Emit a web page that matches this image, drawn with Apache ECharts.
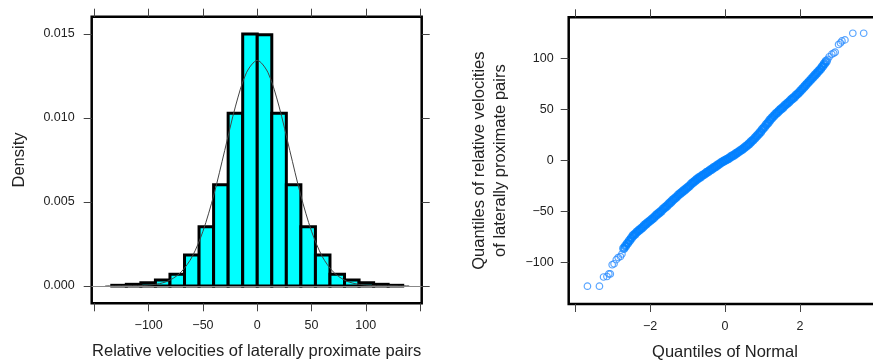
<!DOCTYPE html>
<html>
<head>
<meta charset="utf-8">
<script src="https://cdn.jsdelivr.net/npm/echarts@6/dist/echarts.min.js"></script>
<style>
  html, body { margin: 0; padding: 0; background: #fff; }
  #chart { width: 873px; height: 362px; }
</style>
</head>
<body>
<div id="chart"></div>
<script>
// histogram: bin edges and density per bin
const binEdges = [-134.0, -120.6, -107.2, -93.8, -80.4, -67.0, -53.6, -40.2, -26.8, -13.4, 0,
  13.4, 26.8, 40.2, 53.6, 67.0, 80.4, 93.8, 107.2, 120.6, 134.0]
const binDensity = [0.00004, 0.0001, 0.0002, 0.00036, 0.0007, 0.00185, 0.00353, 0.00603, 0.01029, 0.0150,
  0.01495, 0.01029, 0.00603, 0.00353, 0.00185, 0.0007, 0.00036, 0.0002, 0.0001, 0.00004]

// fitted density curve
const curveX = [-140, -130, -120, -110, -100, -90, -80, -70, -60, -50, -40, -30, -20, -10, 0,
  10, 20, 30, 40, 50, 60, 70, 80, 90, 100, 110, 120, 130, 140]
const curveY = [0.000005, 0.00001, 0.00002, 0.00002, 0.00005, 0.00014, 0.00036, 0.00084, 0.00174, 0.00326,
  0.00542, 0.00806, 0.01071, 0.01269, 0.01343, 0.01269, 0.01071, 0.00806, 0.00542, 0.00326,
  0.00174, 0.00084, 0.00036, 0.00014, 0.00005, 0.00002, 0.00002, 0.00001, 0.000005]

// QQ plot: theoretical normal quantiles and sample quantiles
const qqTheoretical = [-3.67, -3.35, -3.24, -3.15, -3.10, -3.06, -3.01, -2.96, -2.90, -2.85, -2.79, -2.75,
  -2.70, -2.65, -2.60, -2.55, -2.50, -2.45, -2.40, -2.35, -2.30, -2.25, -2.20, -2.15, -2.10, -2.05,
  -2.00, -1.95, -1.90, -1.85, -1.80, -1.75, -1.70, -1.65, -1.60, -1.55, -1.50, -1.45, -1.40, -1.35,
  -1.30, -1.25, -1.20, -1.15, -1.10, -1.05, -1.00, -0.95, -0.90, -0.85, -0.80, -0.75, -0.70, -0.65,
  -0.60, -0.55, -0.50, -0.45, -0.40, -0.35, -0.30, -0.25, -0.20, -0.15, -0.10, -0.05, 0.00,
  0.05, 0.10, 0.15, 0.20, 0.25, 0.30, 0.35, 0.40, 0.45, 0.50, 0.55, 0.60, 0.65, 0.70, 0.75,
  0.80, 0.85, 0.90, 0.95, 1.00, 1.05, 1.10, 1.15, 1.20, 1.25, 1.30, 1.35, 1.40, 1.45, 1.50,
  1.55, 1.60, 1.65, 1.70, 1.75, 1.80, 1.85, 1.90, 1.95, 2.00, 2.05, 2.10, 2.15, 2.20, 2.25,
  2.30, 2.35, 2.40, 2.45, 2.50, 2.55, 2.60, 2.65, 2.70,
  2.74, 2.78, 2.85, 2.90, 2.94, 3.03, 3.08, 3.12, 3.20, 3.41, 3.70]
const qqSample = [-123, -123, -114, -113.5, -111, -111, -102, -101, -97, -95, -94, -91.5,
  -86, -83.5, -81, -78.5, -76, -73.5, -72, -70, -68.5, -67, -65.5, -63.5, -62, -60.5,
  -59, -57.5, -56, -54, -52.5, -51, -49.5, -47.5, -46, -44.5, -42.5, -41, -39, -37.5,
  -36, -34, -32.5, -31, -29.5, -28, -26.5, -25, -23, -21.5, -20, -18.5, -17, -16,
  -14.5, -13.5, -12, -11, -9.5, -8.5, -7, -6, -4.5, -3.5, -2, -1, 0,
  1, 2, 3.5, 4.5, 5.5, 7, 8, 9.5, 10.5, 12, 13.5, 15, 16.5, 18.5, 20,
  22, 24, 26, 28, 30.5, 32.5, 35, 37, 39.5, 41.5, 43.5, 45.5, 47, 49, 50.5,
  52, 54, 55.5, 57, 59, 60.5, 62, 64, 65.5, 67.5, 69.5, 71.5, 73.5, 75.5, 77.5,
  79.5, 81.5, 83.5, 85.5, 87.5, 89.5, 92, 94.5, 97,
  99, 101.5, 104, 105, 106, 113.5, 115, 117, 118, 124.5, 124.5]

const histXTicks = [-150, -100, -50, 0, 50, 100, 150]
const histXLabels = [-100, -50, 0, 50, 100]
const histYTicks = [0, 0.005, 0.010, 0.015]
const qqXTicks = [-4, -2, 0, 2, 4]
const qqXLabels = [-2, 0, 2]
const qqYTicks = [-100, -50, 0, 50, 100]

const FONT = 'Liberation Sans, Arial, Helvetica, sans-serif'
const minus = v => String(v).replace('-', '\u2212')

const tick = vals => ({ show: true, inside: false, length: 8, customValues: vals, lineStyle: { color: '#444', width: 1 } })
const label = (vals, fmt, margin) => ({
  show: true, customValues: vals, formatter: fmt, margin: margin,
  color: '#222', fontSize: 12.5, fontFamily: FONT
})
const noLine = { show: false, onZero: false }
const nameStyle = { color: '#222', fontSize: 16.5, fontFamily: FONT, lineHeight: 21 }

// the dense middle of the QQ band overlaps into a solid stripe, the tails are single rings
const isBand = q => Math.abs(q) <= 2.7
const qqPoints = qqTheoretical.map((q, i) => [q, qqSample[i]])

const chart = echarts.init(document.getElementById('chart'))

const option = {
  animation: false,
  backgroundColor: '#fff',
  grid: [
    { left: 91.7, top: 16.7, width: 330, height: 286.6, outerBoundsMode: 'none', containLabel: false,
      show: true, borderColor: '#000', borderWidth: 2.5, backgroundColor: 'transparent' },
    { left: 568.7, top: 17.3, width: 312.6, height: 286.7, outerBoundsMode: 'none', containLabel: false,
      show: true, borderColor: '#000', borderWidth: 2.5, backgroundColor: 'transparent' }
  ],
  xAxis: [
    {
      type: 'value', gridIndex: 0, position: 'bottom', min: -152.5, max: 151.5,
      axisLine: noLine, splitLine: { show: false },
      axisTick: tick(histXTicks), axisLabel: label(histXLabels, minus, 16),
      name: 'Relative velocities of laterally proximate pairs', nameLocation: 'middle', nameGap: 38,
      nameTextStyle: nameStyle
    },
    {
      type: 'value', gridIndex: 0, position: 'top', min: -152.5, max: 151.5,
      axisLine: noLine, splitLine: { show: false },
      axisTick: tick(histXTicks), axisLabel: { show: false }
    },
    {
      type: 'value', gridIndex: 1, position: 'bottom', min: -4.17, max: 4.17,
      axisLine: noLine, splitLine: { show: false },
      axisTick: tick(qqXTicks), axisLabel: label(qqXLabels, minus, 16),
      name: 'Quantiles of Normal', nameLocation: 'middle', nameGap: 38,
      nameTextStyle: nameStyle
    },
    {
      type: 'value', gridIndex: 1, position: 'top', min: -4.17, max: 4.17,
      axisLine: noLine, splitLine: { show: false },
      axisTick: tick(qqXTicks), axisLabel: { show: false }
    }
  ],
  yAxis: [
    {
      type: 'value', gridIndex: 0, position: 'left', min: -0.00103, max: 0.01603,
      axisLine: noLine, splitLine: { show: false },
      axisTick: tick(histYTicks), axisLabel: label(histYTicks, v => v.toFixed(3), 17),
      name: 'Density', nameLocation: 'middle', nameGap: 62, nameRotate: 90,
      nameTextStyle: nameStyle
    },
    {
      type: 'value', gridIndex: 0, position: 'right', min: -0.00103, max: 0.01603,
      axisLine: noLine, splitLine: { show: false },
      axisTick: tick(histYTicks), axisLabel: { show: false }
    },
    {
      type: 'value', gridIndex: 1, position: 'left', min: -140.4, max: 140.1,
      axisLine: noLine, splitLine: { show: false },
      axisTick: tick(qqYTicks), axisLabel: label(qqYTicks, minus, 15),
      name: 'Quantiles of relative velocities\nof laterally proximate pairs', nameLocation: 'middle',
      nameGap: 58, nameRotate: 90, nameTextStyle: nameStyle
    }
  ],
  series: [
    {
      type: 'custom',
      xAxisIndex: 0, yAxisIndex: 0,
      data: binDensity.map((d, i) => [binEdges[i], binEdges[i + 1], d]),
      encode: { x: [0, 1], y: 2 },
      renderItem: (params, api) => {
        const p0 = api.coord([api.value(0), api.value(2)])
        const p1 = api.coord([api.value(1), 0])
        return {
          type: 'rect',
          shape: { x: p0[0], y: p0[1], width: p1[0] - p0[0], height: p1[1] - p0[1] },
          style: { fill: '#00ffff', stroke: '#000', lineWidth: 3 }
        }
      },
      z: 2
    },
    {
      type: 'line',
      xAxisIndex: 0, yAxisIndex: 0,
      data: curveX.map((x, i) => [x, curveY[i]]),
      smooth: 0.3, showSymbol: false,
      lineStyle: { color: '#444', width: 1 },
      markLine: {
        silent: true, symbol: 'none', label: { show: false },
        lineStyle: { color: '#888', width: 1, type: 'solid' },
        data: [{ yAxis: 0 }]
      },
      z: 3
    },
    {
      type: 'scatter',
      xAxisIndex: 2, yAxisIndex: 2,
      data: qqPoints.filter(p => isBand(p[0])),
      symbol: 'circle', symbolSize: 6.5,
      itemStyle: { color: 'rgba(0,0,0,0)', borderColor: '#0080ff', borderWidth: 2.8 },
      z: 2
    },
    {
      type: 'scatter',
      xAxisIndex: 2, yAxisIndex: 2,
      data: qqPoints.filter(p => !isBand(p[0])),
      symbol: 'circle', symbolSize: 6.5,
      itemStyle: { color: 'rgba(0,0,0,0)', borderColor: '#2f8fff', borderWidth: 1.2 },
      z: 2
    }
  ]
}

chart.setOption(option)
</script>
</body>
</html>
